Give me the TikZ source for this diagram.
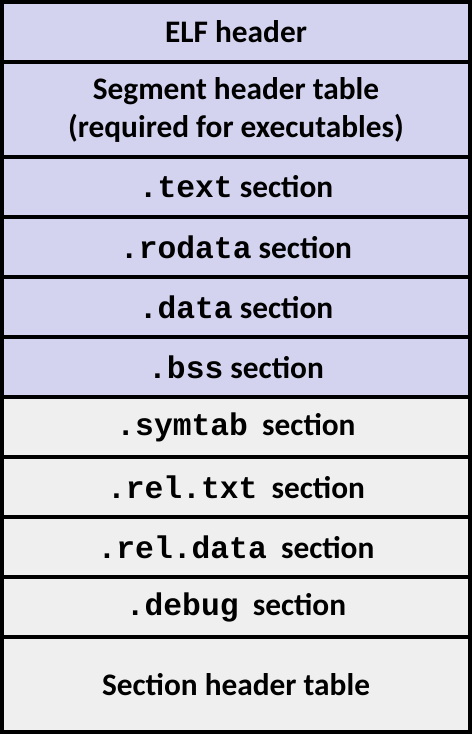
\documentclass[tikz,border=0pt]{standalone}
\usepackage{fontspec}
\setmainfont{Carlito}
\setmonofont{Liberation Mono}
\usepackage{xcolor}
\usetikzlibrary{positioning}
\definecolor{segazul}{RGB}{211,211,239}
\definecolor{secgris}{RGB}{239,239,239}
\tikzset{
  fila/.style={draw=black,line width=2.6pt,minimum width=351pt,minimum height=45pt,
    inner sep=0pt,outer sep=0pt,align=center,
    font=\bfseries\fontsize{23.5}{28.5}\selectfont},
  cargado/.style={fila,fill=segazul},
  extra/.style={fila,fill=secgris},
  alta/.style={minimum height=71.25pt}
}

\begin{document}
\begin{tikzpicture}
\useasboundingbox (-1.5pt,1.5pt) rectangle (352.5pt,-555pt);
% partes cargadas en memoria
\node[cargado,anchor=north west] (elf) at (0,0) {ELF header};
\node[cargado,alta,below=0pt of elf] (seg) {Segment header table\\(required for executables)};
\node[cargado,below=0pt of seg] (txt) {\texttt{.text} section};
\node[cargado,below=0pt of txt] (rodata) {\texttt{.rodata} section};
\node[cargado,below=0pt of rodata] (data) {\texttt{.data} section};
\node[cargado,below=0pt of data] (bss) {\texttt{.bss} section};
% secciones que no se cargan
\node[extra,below=0pt of bss] (symtab) {\texttt{.symtab}\ \ section};
\node[extra,below=0pt of symtab] (reltxt) {\texttt{.rel.txt}\ \ section};
\node[extra,below=0pt of reltxt] (reldata) {\texttt{.rel.data}\ \ section};
\node[extra,below=0pt of reldata] (debug) {\texttt{.debug}\ \ section};
\node[extra,alta,below=0pt of debug] (sht) {Section header table};
\end{tikzpicture}
\end{document}
